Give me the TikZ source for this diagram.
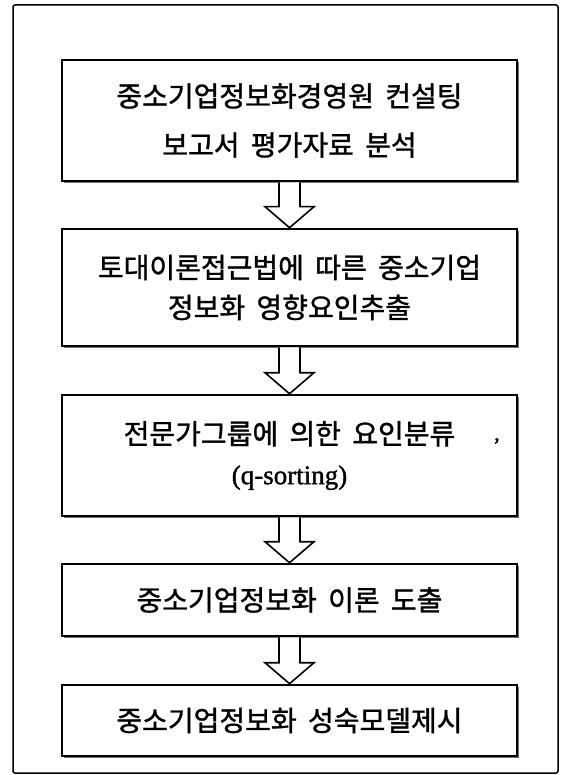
\documentclass[tikz,border=0pt]{standalone}
\usepackage{fontspec}
\setmainfont{Liberation Serif}
\newfontfamily\kr[WordSpace=1.8,FakeBold=1.2]{Noto Sans CJK KR}
\newfontfamily\lat[FakeBold=1.2]{Liberation Serif}
\usetikzlibrary{calc,shadows}
\begin{document}
\begin{tikzpicture}[x=1pt,y=-1pt,
  frame/.style={draw, line width=1.5pt, rounded corners=2pt},
  stepbox/.style={draw, line width=2.6pt, fill=white, minimum width=455pt, inner sep=0pt,
    align=center, font=\kr\fontsize{28}{40}\selectfont,
    drop shadow={shadow xshift=2pt, shadow yshift=-2pt, fill=black!55, opacity=1}},
  blk/.style={draw, line width=1.6pt, fill=white, line join=miter}]
\useasboundingbox (0,0) rectangle (564,775);
\draw[frame] (13,5) rectangle (558,773);

\node[stepbox, minimum height=121pt, font=\kr\fontsize{28}{49}\selectfont] (b1) at (289.5,120.5)
  {중소기업정보화경영원 컨설팅\\보고서 평가자료 분석};
\node[stepbox, minimum height=117pt] (b2) at (289.5,287.5)
  {토대이론접근법에 따른 중소기업\\정보화 영향요인추출};
\node[stepbox, minimum height=121pt] (b3) at (289.5,455.5)
  {전문가그룹에 의한 요인분류\\{\lat\fontsize{27}{40}\selectfont (q-sorting)}};
\node[stepbox, minimum height=72pt] (b4) at (289.5,600)
  {중소기업정보화 이론 도출};
\node[stepbox, minimum height=71pt] (b5) at (289.5,720.5)
  {중소기업정보화 성숙모델제시};

\node[font=\lat\fontsize{22}{22}\selectfont, inner sep=0pt] (mark) at (497,441) {,};

\foreach \a/\b in {b1/b2,b2/b3,b3/b4,b4/b5} {
  \draw[blk] let \p1=(\a.south), \p2=(\b.north) in
    (\x1-10.5pt,\y1) -- (\x1-10.5pt,\y2+21pt) -- (\x1-24.5pt,\y2+21pt) -- (\x1,\y2)
    -- (\x1+24.5pt,\y2+21pt) -- (\x1+10.5pt,\y2+21pt) -- (\x1+10.5pt,\y1);
}
\end{tikzpicture}
\end{document}
